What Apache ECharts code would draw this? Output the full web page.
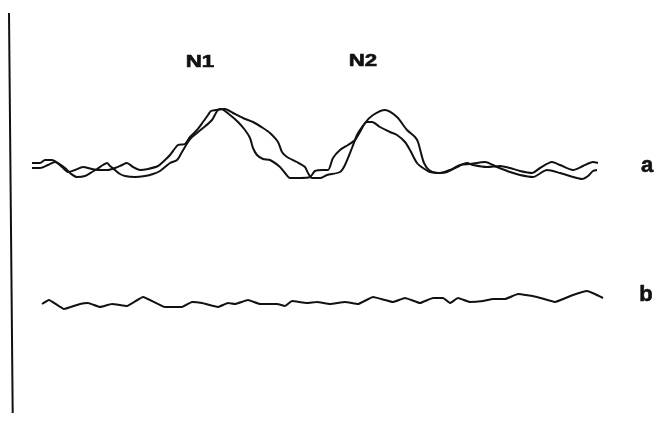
<!DOCTYPE html>
<html>
<head>
<meta charset="utf-8">
<script src="https://cdn.jsdelivr.net/npm/echarts@6/dist/echarts.min.js"></script>
<style>
html,body{margin:0;padding:0;background:#fff;}
#chart{width:657px;height:444px;}
</style>
</head>
<body>
<div id="chart"></div>
<script>
// Trace data: [time, deflection] (deflection axis points downward)
const traceA1 = [
  [32,163],[40,163],[45,160],[52,160],[58,163],[65,168],[70,173],[77,177],[85,176],[92,172],
  [97,169],[103,165],[107,163],[110,166],[115,170],[120,174],[125,176],[135,177],[145,176],
  [153,174],[160,171],[170,163],[177,160],[182,152],[188,142],[192,137],[203,128],[212,120],
  [218,110],[225,109],[233,113],[243,118],[253,122],[263,128],[270,133],[278,142],[282,152],
  [287,157],[297,162],[305,167],[308,173],[312,178],[320,178],[327,175],[340,172],[345,165],
  [352,148],[357,135],[362,127],[367,122],[372,122],[380,127],[390,132],[397,135],[405,142],
  [410,150],[417,163],[423,168],[430,172],[440,173],[450,170],[460,165],[470,164],[485,162],
  [497,167],[510,172],[520,175],[533,177],[547,170],[560,173],[573,177],[582,179],[588,176],
  [593,171],[597,170]
];
const traceA2 = [
  [32,168],[40,168],[48,165],[55,162],[62,167],[68,172],[75,170],[83,167],[92,169],[98,170],
  [108,170],[115,168],[122,165],[127,163],[133,167],[140,170],[148,169],[158,166],[165,160],
  [170,155],[178,145],[185,144],[190,137],[197,130],[203,122],[208,115],[211,111],[216,110],
  [221,109],[230,115],[238,122],[245,130],[250,138],[253,148],[257,155],[263,159],[270,160],
  [280,167],[285,173],[290,178],[300,178],[310,177],[315,171],[323,170],[328,170],[333,158],
  [340,150],[348,145],[355,140],[360,132],[365,123],[373,115],[385,110],[397,117],[407,130],
  [415,137],[418,142],[421,153],[424,163],[429,170],[437,173],[447,172],[457,167],[467,163],
  [473,165],[487,167],[500,166],[510,168],[520,171],[532,173],[540,168],[552,162],[560,165],
  [573,170],[583,166],[593,162],[598,163]
];
const traceB = [
  [42,304],[49,300],[64,309],[80,304],[88,303],[100,307],[112,304],[127,306],[143,297],
  [165,307],[182,307],[192,302],[202,303],[218,307],[228,303],[235,304],[248,300],[260,304],
  [277,304],[285,306],[292,301],[307,303],[317,302],[330,304],[345,302],[358,304],[373,297],
  [393,302],[405,298],[420,303],[433,298],[443,298],[450,303],[458,298],[470,302],[483,301],
  [493,299],[505,299],[518,294],[537,297],[555,302],[573,295],[587,291],[595,294],[603,298]
];
const spine = [[9,13],[12.7,413]];
const peakLabels = ['N1', 'N2'];
const traceLabels = ['a', 'b'];

const chart = echarts.init(document.getElementById('chart'), null, {renderer: 'canvas'});
const lineStyle = {color: '#111', width: 2};
function trace(name, data, smooth) {
  return {
    name: name, type: 'line', data: data, showSymbol: false, symbol: 'none',
    smooth: smooth, lineStyle: lineStyle, animation: false, silent: true
  };
}
const font = '"Liberation Sans", Arial, sans-serif';
function label(text, x, y, size, sx) {
  return {type: 'text', x: x, y: y, scaleX: sx, style: {
    text: text, x: 0, y: 0, align: 'center', verticalAlign: 'middle',
    font: 'bold ' + size + 'px ' + font, fill: '#111', stroke: '#111', lineWidth: 0.6
  }};
}
chart.setOption({
  backgroundColor: '#fff',
  animation: false,
  grid: {left: 0, right: 0, top: 0, bottom: 0},
  xAxis: {type: 'value', min: 0, max: 657, show: false},
  yAxis: {type: 'value', min: 0, max: 444, inverse: true, show: false},
  series: [
    trace('spine', spine, false),
    trace('a1', traceA1, 0.25),
    trace('a2', traceA2, 0.25),
    trace('b', traceB, 0.1)
  ],
  graphic: [
    label(peakLabels[0], 200, 62.5, 16.5, 1.35),
    label(peakLabels[1], 363, 61.5, 16.5, 1.35),
    label(traceLabels[0], 647, 166, 22, 1),
    label(traceLabels[1], 646, 295, 22, 1)
  ]
});
</script>
</body>
</html>
